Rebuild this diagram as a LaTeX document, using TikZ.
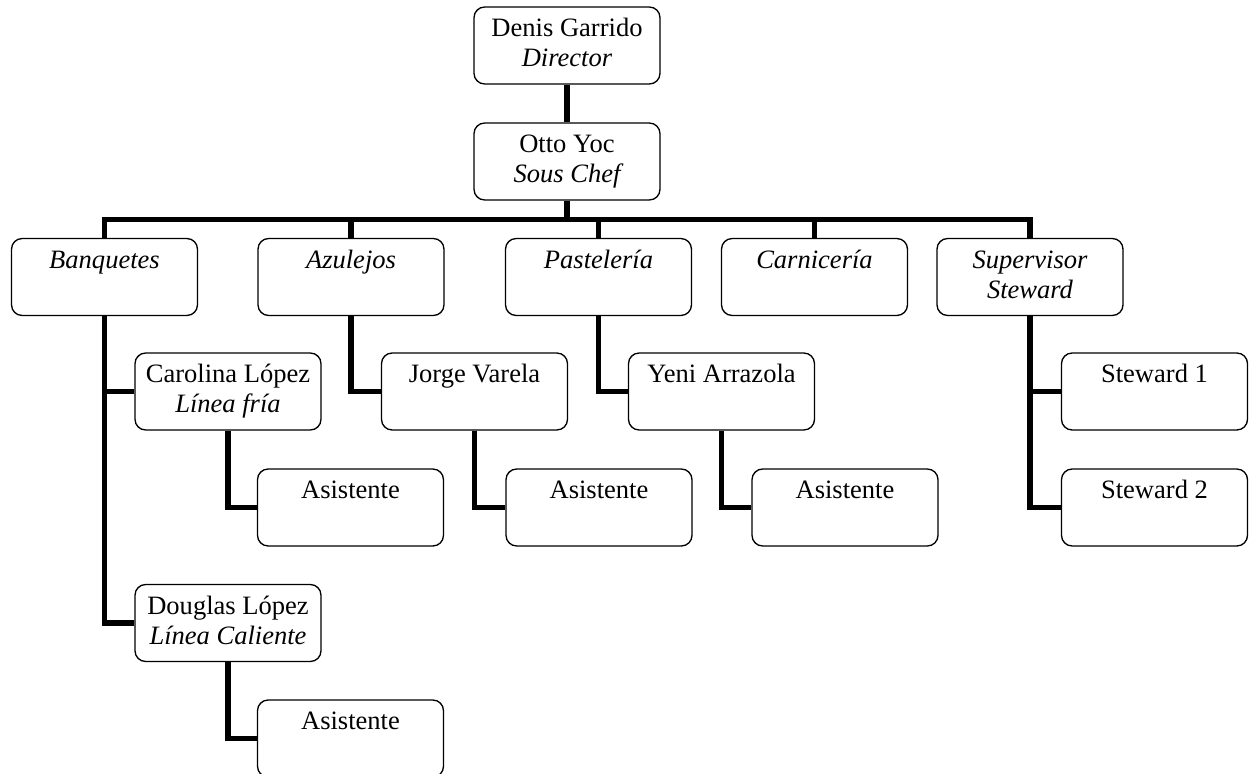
\documentclass[tikz,border=0pt]{standalone}
\usepackage{fontspec}
\setmainfont{Liberation Serif}
\newcommand{\boxtxt}[2]{\strut#1\\\strut#2}
\tikzset{
  ocbox/.style={draw=black, line width=1pt, rounded corners=8pt, fill=white,
    minimum width=139.5pt, minimum height=57.75pt, inner sep=0pt, align=center,
    font=\fontsize{19.9}{22.5}\selectfont},
  orgline/.style={draw=black, line width=4.1pt, line join=miter}
}
\begin{document}
\begin{tikzpicture}[x=0.75pt, y=-0.75pt]
\useasboundingbox (0,0) rectangle (1250,774);
% level 0/1
\node[ocbox] (denis) at (567,45.5) {\boxtxt{Denis Garrido}{\itshape Director}};
\node[ocbox] (otto) at (567,161.5) {\boxtxt{Otto Yoc}{\itshape Sous Chef}};
% top level
\node[ocbox] (banq) at (104.5,277) {\boxtxt{\itshape Banquetes}{}};
\node[ocbox] (azul) at (351,277) {\boxtxt{\itshape Azulejos}{}};
\node[ocbox] (past) at (598.5,277) {\boxtxt{\itshape Pastelería}{}};
\node[ocbox] (carn) at (814.5,277) {\boxtxt{\itshape Carnicería}{}};
\node[ocbox] (sup) at (1030,277) {\boxtxt{\itshape Supervisor}{\itshape Steward}};
% level 2
\node[ocbox] (carol) at (228,391.5) {\boxtxt{Carolina López}{\itshape Línea fría}};
\node[ocbox] (jorge) at (474.5,391.5) {\boxtxt{Jorge Varela}{}};
\node[ocbox] (yeni) at (721.5,391.5) {\boxtxt{Yeni Arrazola}{}};
\node[ocbox] (stw1) at (1154.5,391.5) {\boxtxt{Steward 1}{}};
% level 3
\node[ocbox] (asis1) at (350.5,507.5) {\boxtxt{Asistente}{}};
\node[ocbox] (asis2) at (599,507.5) {\boxtxt{Asistente}{}};
\node[ocbox] (asis3) at (845,507.5) {\boxtxt{Asistente}{}};
\node[ocbox] (stw2) at (1154.5,507.5) {\boxtxt{Steward 2}{}};
% lower
\node[ocbox] (doug) at (228,623) {\boxtxt{Douglas López}{\itshape Línea Caliente}};
\node[ocbox] (asis4) at (350.5,738.5) {\boxtxt{Asistente}{}};
% connectors
\coordinate (bar) at (567,219.5);
\draw[orgline] (denis.south) -- (otto.north);
\draw[orgline] (otto.south) -- (bar);
\draw[orgline] (banq.north) |- (bar) -| (sup.north);
\draw[orgline] (azul.north) -- (azul.north |- bar);
\draw[orgline] (past.north) -- (past.north |- bar);
\draw[orgline] (carn.north) -- (carn.north |- bar);
\draw[orgline] (banq.south) |- (carol.west);
\draw[orgline] (banq.south) |- (doug.west);
\draw[orgline] (carol.south) |- (asis1.west);
\draw[orgline] (doug.south) |- (asis4.west);
\draw[orgline] (azul.south) |- (jorge.west);
\draw[orgline] (jorge.south) |- (asis2.west);
\draw[orgline] (past.south) |- (yeni.west);
\draw[orgline] (yeni.south) |- (asis3.west);
\draw[orgline] (sup.south) |- (stw1.west);
\draw[orgline] (sup.south) |- (stw2.west);
\end{tikzpicture}
\end{document}
